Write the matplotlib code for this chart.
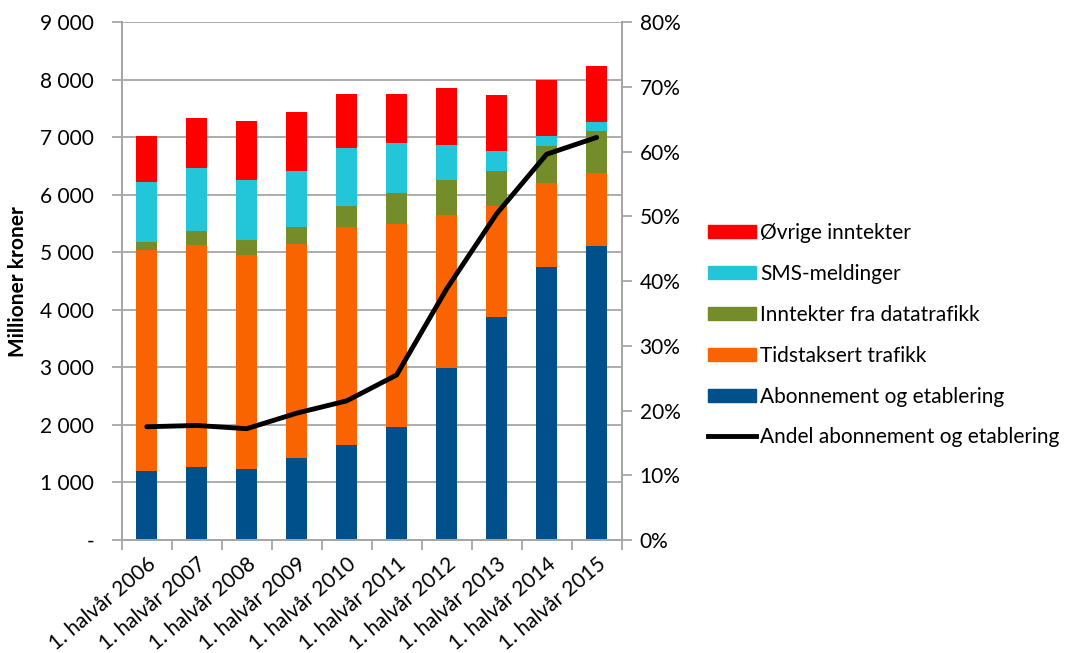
import matplotlib.pyplot as plt
import numpy as np
from matplotlib.patches import Patch
from matplotlib.lines import Line2D
from matplotlib.ticker import FuncFormatter

plt.rcParams['font.family'] = ['Lato', 'DejaVu Sans']

periods = ['1. halvår 2006', '1. halvår 2007', '1. halvår 2008', '1. halvår 2009',
           '1. halvår 2010', '1. halvår 2011', '1. halvår 2012', '1. halvår 2013',
           '1. halvår 2014', '1. halvår 2015']

# millioner kroner per kategori
abonnement = [1205, 1268, 1243, 1424, 1649, 1967, 2986, 3885, 4747, 5115]
tidstaksert = [3842, 3854, 3704, 3723, 3785, 3530, 2664, 1925, 1453, 1265]
datatrafikk = [137, 250, 263, 300, 366, 533, 610, 610, 640, 730]
sms = [1037, 1090, 1050, 960, 1010, 870, 600, 340, 190, 160]
ovrige = [793, 870, 1020, 1033, 940, 860, 1000, 980, 965, 970]
andel = [0.175, 0.177, 0.172, 0.196, 0.215, 0.255, 0.388, 0.504, 0.596, 0.622]

series = [
    ('Abonnement og etablering', abonnement, '#00508C'),
    ('Tidstaksert trafikk', tidstaksert, '#FA6400'),
    ('Inntekter fra datatrafikk', datatrafikk, '#758C2A'),
    ('SMS-meldinger', sms, '#22C6D8'),
    ('Øvrige inntekter', ovrige, '#FF0000'),
]

fig = plt.figure(figsize=(10.68, 6.53), dpi=100)
ax = fig.add_axes([0.114, 0.173, 0.468, 0.793])
ax2 = ax.twinx()

x = np.arange(len(periods))
bottom = np.zeros(len(periods))
for name, vals, color in series:
    ax.bar(x, vals, width=0.42, bottom=bottom, color=color, zorder=2)
    bottom += np.array(vals)

ax2.plot(x, andel, color='black', linewidth=3.5, solid_capstyle='round',
         solid_joinstyle='round')

grid_col = '#A6A6A6'
fs = 15
ax.set_xlim(-0.5, len(periods) - 0.5)
ax.set_ylim(0, 9000)
ax.set_yticks(np.arange(0, 9001, 1000))
ax.yaxis.set_major_formatter(FuncFormatter(
    lambda v, p: '-' if v == 0 else f'{int(v):,}'.replace(',', ' ')))
ax.grid(axis='y', color=grid_col, linewidth=1.3, zorder=0)
ax.set_axisbelow(True)

ax2.set_ylim(0, 0.8)
ax2.set_yticks(np.arange(0, 0.81, 0.1))
ax2.yaxis.set_major_formatter(FuncFormatter(lambda v, p: f'{v * 100:.0f}%'))

ax.set_xticks(np.arange(-0.5, len(periods), 1.0))
ax.set_xticklabels([])
ax.set_xticks(x, minor=True)
ax.set_xticklabels(periods, minor=True, rotation=40, ha='right',
                   rotation_mode='anchor', fontsize=fs)
ax.tick_params(axis='x', which='minor', length=0, pad=10)
ax.tick_params(axis='x', which='major', length=7, color=grid_col, width=1.3)
ax.tick_params(axis='y', length=7, color=grid_col, width=1.3, labelsize=fs, pad=13)
ax2.tick_params(axis='y', length=7, color=grid_col, width=1.3, labelsize=fs, pad=6)

for a in (ax, ax2):
    a.spines['top'].set_visible(False)
    for side in ('left', 'right', 'bottom'):
        a.spines[side].set_color(grid_col)
        a.spines[side].set_linewidth(1.3)

ax.set_ylabel('Millioner kroner', fontsize=fs, fontweight='bold', labelpad=9)

handles = [Patch(color=c, label=n) for n, v, c in series[::-1]]
handles.append(Line2D([], [], color='black', linewidth=3.5,
                      label='Andel abonnement og etablering'))
fig.legend(handles=handles, loc='upper left', bbox_to_anchor=(0.655, 0.671),
           frameon=False, fontsize=fs, handlelength=2.3, handleheight=0.6,
           handletextpad=0.2, labelspacing=1.0, borderaxespad=0)

fig.savefig('out.png', dpi=100)
